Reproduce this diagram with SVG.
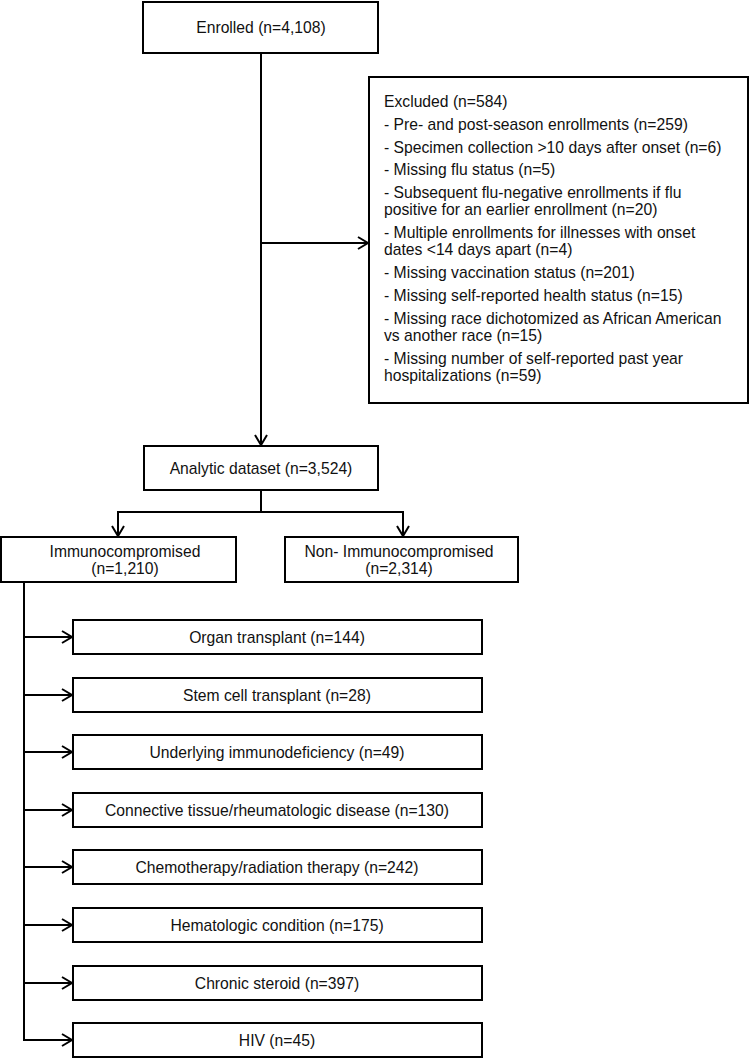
<svg xmlns="http://www.w3.org/2000/svg" width="752" height="1059" viewBox="0 0 752 1059">
<defs>
<style>
.box{fill:#fff;stroke:#000;stroke-width:2}
.t{font-family:"Liberation Sans",Arial,sans-serif;font-size:15.7px;fill:#111}
.c{text-anchor:middle}
.ln{fill:none;stroke:#000;stroke-width:2}
</style>
<marker id="ah" markerUnits="userSpaceOnUse" markerWidth="14" markerHeight="14" refX="11" refY="7" orient="auto">
<path d="M1,1 L11,7 L1,13" fill="none" stroke="#000" stroke-width="2"/>
</marker>
</defs>
<rect width="752" height="1059" fill="#fff"/>
<g id="connectors">
<line class="ln" x1="261" y1="53" x2="261" y2="445" marker-end="url(#ah)"/>
<line class="ln" x1="261" y1="243" x2="368" y2="243" marker-end="url(#ah)"/>
<line class="ln" x1="261" y1="490" x2="261" y2="512"/>
<line class="ln" x1="117" y1="512" x2="404" y2="512"/>
<line class="ln" x1="118" y1="511" x2="118" y2="536" marker-end="url(#ah)"/>
<line class="ln" x1="403" y1="511" x2="403" y2="536" marker-end="url(#ah)"/>
<line class="ln" x1="24" y1="582" x2="24" y2="1041"/>
<line class="ln" x1="23" y1="637" x2="72" y2="637" marker-end="url(#ah)"/>
<line class="ln" x1="23" y1="695" x2="72" y2="695" marker-end="url(#ah)"/>
<line class="ln" x1="23" y1="752" x2="72" y2="752" marker-end="url(#ah)"/>
<line class="ln" x1="23" y1="810" x2="72" y2="810" marker-end="url(#ah)"/>
<line class="ln" x1="23" y1="867" x2="72" y2="867" marker-end="url(#ah)"/>
<line class="ln" x1="23" y1="925" x2="72" y2="925" marker-end="url(#ah)"/>
<line class="ln" x1="23" y1="983" x2="72" y2="983" marker-end="url(#ah)"/>
<line class="ln" x1="23" y1="1040" x2="72" y2="1040" marker-end="url(#ah)"/>
</g>
<g id="enrolled">
<rect class="box" x="143" y="2" width="235" height="51"/>
<text class="t c" x="261" y="33">Enrolled (n=4,108)</text>
</g>
<g id="excluded">
<rect class="box" x="369" y="77" width="379" height="326"/>
<text class="t" x="384" y="107">Excluded (n=584)</text>
<text class="t" x="384" y="130">- Pre- and post-season enrollments (n=259)</text>
<text class="t" x="384" y="153">- Specimen collection &gt;10 days after onset (n=6)</text>
<text class="t" x="384" y="175">- Missing flu status (n=5)</text>
<text class="t" x="384" y="198">- Subsequent flu-negative enrollments if flu</text>
<text class="t" x="384" y="215">positive for an earlier enrollment (n=20)</text>
<text class="t" x="384" y="238">- Multiple enrollments for illnesses with onset</text>
<text class="t" x="384" y="255">dates &lt;14 days apart (n=4)</text>
<text class="t" x="384" y="278">- Missing vaccination status (n=201)</text>
<text class="t" x="384" y="301">- Missing self-reported health status (n=15)</text>
<text class="t" x="384" y="324">- Missing race dichotomized as African American</text>
<text class="t" x="384" y="341">vs another race (n=15)</text>
<text class="t" x="384" y="364">- Missing number of self-reported past year</text>
<text class="t" x="384" y="381">hospitalizations (n=59)</text>
</g>
<g id="analytic">
<rect class="box" x="144" y="446" width="234" height="44"/>
<text class="t c" x="261" y="474">Analytic dataset (n=3,524)</text>
</g>
<g id="immuno">
<rect class="box" x="1" y="537" width="235" height="45"/>
<text class="t c" x="125" y="557">Immunocompromised</text>
<text class="t c" x="125" y="574">(n=1,210)</text>
</g>
<g id="nonimmuno">
<rect class="box" x="285" y="537" width="233" height="45"/>
<text class="t c" x="399" y="557">Non- Immunocompromised</text>
<text class="t c" x="399" y="574">(n=2,314)</text>
</g>
<g id="organ"><rect class="box" x="73" y="620" width="409" height="34"/><text class="t c" x="277" y="643">Organ transplant (n=144)</text></g>
<g id="stem"><rect class="box" x="73" y="678" width="409" height="34"/><text class="t c" x="277" y="701">Stem cell transplant (n=28)</text></g>
<g id="underlying"><rect class="box" x="73" y="735" width="409" height="34"/><text class="t c" x="277" y="758">Underlying immunodeficiency (n=49)</text></g>
<g id="connective"><rect class="box" x="73" y="793" width="409" height="34"/><text class="t c" x="277" y="816">Connective tissue/rheumatologic disease (n=130)</text></g>
<g id="chemo"><rect class="box" x="73" y="850" width="409" height="34"/><text class="t c" x="277" y="873">Chemotherapy/radiation therapy (n=242)</text></g>
<g id="hematologic"><rect class="box" x="73" y="908" width="409" height="34"/><text class="t c" x="277" y="931">Hematologic condition (n=175)</text></g>
<g id="steroid"><rect class="box" x="73" y="966" width="409" height="34"/><text class="t c" x="277" y="989">Chronic steroid (n=397)</text></g>
<g id="hiv"><rect class="box" x="73" y="1023" width="409" height="34"/><text class="t c" x="277" y="1046">HIV (n=45)</text></g>
</svg>
